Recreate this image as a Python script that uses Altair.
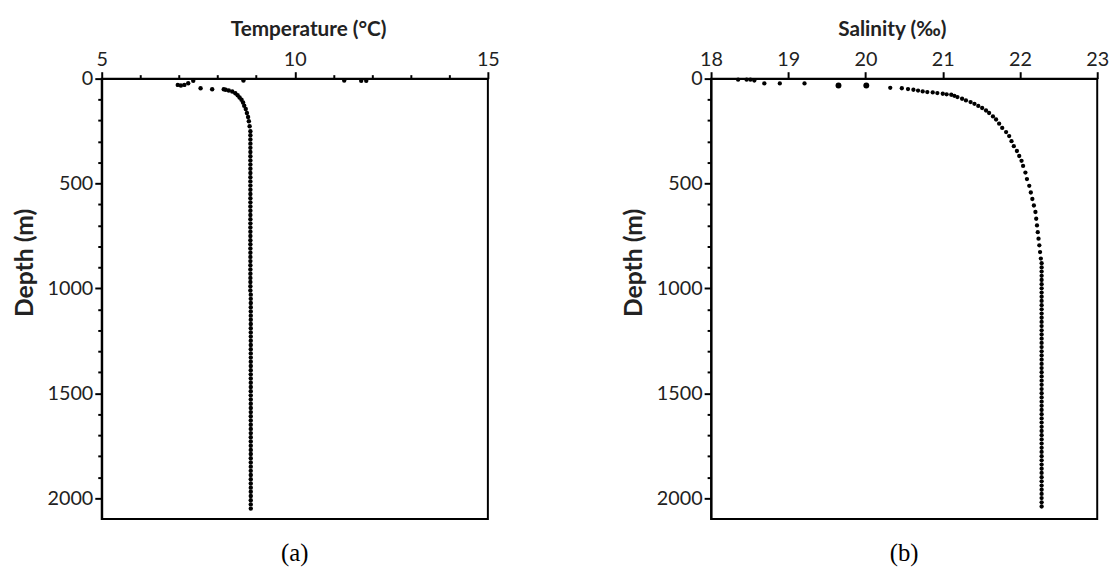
import altair as alt
import pandas as pd

# ---------------- Panel (a): temperature profile ----------------
temp_top_t = [6.97, 7.05, 7.14, 7.24, 7.37, 7.56, 7.86, 8.67, 11.28, 11.72, 11.85,
              8.16, 8.21, 8.29, 8.38, 8.46, 8.52, 8.57, 8.62, 8.66, 8.69, 8.73,
              8.76, 8.79, 8.81, 8.83, 8.85]
temp_top_d = [30, 33, 30, 22, 10, 46, 51, 9, 9, 10, 10,
              51, 53, 57, 61, 70, 79, 90, 101, 114, 129, 145,
              164, 183, 203, 227, 251]

deep_depth_a = [270, 290, 310, 330, 350, 370, 390, 410, 430, 450,
                470, 490, 510, 530, 550, 570, 590, 610, 630, 650,
                670, 690, 710, 730, 750, 770, 790, 810, 830, 850,
                870, 890, 910, 930, 950, 970, 990, 1010, 1030, 1050,
                1070, 1090, 1110, 1130, 1150, 1170, 1190, 1210, 1230, 1250,
                1270, 1290, 1310, 1330, 1350, 1370, 1390, 1410, 1430, 1450,
                1470, 1490, 1510, 1530, 1550, 1570, 1590, 1610, 1630, 1650,
                1670, 1690, 1710, 1730, 1750, 1770, 1790, 1810, 1830, 1850,
                1870, 1890, 1910, 1930, 1950, 1970, 1990, 2010, 2030, 2050]
deep_temp = [8.85, 8.85, 8.85, 8.85, 8.85, 8.85, 8.85, 8.85, 8.85, 8.85,
             8.85, 8.85, 8.85, 8.85, 8.85, 8.85, 8.85, 8.85, 8.85, 8.85,
             8.85, 8.85, 8.85, 8.85, 8.85, 8.85, 8.85, 8.85, 8.85, 8.85,
             8.85, 8.85, 8.85, 8.85, 8.85, 8.85, 8.85, 8.85, 8.86, 8.86,
             8.86, 8.86, 8.86, 8.86, 8.86, 8.86, 8.86, 8.86, 8.86, 8.86,
             8.86, 8.86, 8.86, 8.86, 8.86, 8.86, 8.86, 8.86, 8.86, 8.86,
             8.86, 8.86, 8.86, 8.86, 8.86, 8.86, 8.86, 8.86, 8.86, 8.86,
             8.86, 8.86, 8.86, 8.86, 8.86, 8.86, 8.86, 8.86, 8.86, 8.86,
             8.86, 8.86, 8.86, 8.86, 8.86, 8.86, 8.86, 8.86, 8.86, 8.86]

# ---------------- Panel (b): salinity profile ----------------
sal_top_s = [18.35, 18.46, 18.51, 18.56, 18.69, 18.89, 19.21, 19.65, 20.01, 20.32,
             20.47, 20.55, 20.62, 20.68, 20.74, 20.80, 20.87, 20.93, 21.00, 21.05,
             21.11, 21.15, 21.19, 21.25, 21.30, 21.36, 21.41, 21.46, 21.51, 21.56,
             21.60, 21.65, 21.69, 21.73, 21.77, 21.82, 21.86, 21.89, 21.92, 21.96,
             21.99, 22.02, 22.04, 22.07, 22.09, 22.12, 22.14, 22.16, 22.18, 22.20,
             22.21, 22.22, 22.23, 22.24, 22.25, 22.26, 22.27]
sal_top_d = [5, 5, 5, 9, 23, 23, 23, 33, 33, 44,
             46, 50, 53, 57, 61, 64, 66, 69, 72, 75,
             77, 82, 88, 96, 104, 112, 120, 130, 140, 152,
             164, 180, 195, 215, 235, 255, 274, 298, 322, 345,
             369, 392, 416, 448, 479, 511, 543, 574, 605, 636,
             668, 700, 732, 763, 795, 827, 858]
sal_big = [19.65, 20.01]

deep_depth_b = [880, 900, 920, 940, 960, 980, 1000, 1020, 1040, 1060,
                1080, 1100, 1120, 1140, 1160, 1180, 1200, 1220, 1240, 1260,
                1280, 1300, 1320, 1340, 1360, 1380, 1400, 1420, 1440, 1460,
                1480, 1500, 1520, 1540, 1560, 1580, 1600, 1620, 1640, 1660,
                1680, 1700, 1720, 1740, 1760, 1780, 1800, 1820, 1840, 1860,
                1880, 1900, 1920, 1940, 1960, 1980, 2000, 2020, 2040]
deep_sal = [22.28, 22.28, 22.28, 22.28, 22.28, 22.28, 22.28, 22.28, 22.28, 22.28,
            22.28, 22.28, 22.28, 22.28, 22.28, 22.28, 22.28, 22.28, 22.28, 22.28,
            22.28, 22.28, 22.28, 22.28, 22.28, 22.28, 22.28, 22.28, 22.28, 22.28,
            22.28, 22.28, 22.28, 22.28, 22.28, 22.28, 22.28, 22.28, 22.28, 22.28,
            22.28, 22.28, 22.28, 22.28, 22.28, 22.28, 22.28, 22.28, 22.28, 22.28,
            22.28, 22.28, 22.28, 22.28, 22.28, 22.28, 22.28, 22.28, 22.28]

# axis tick values
temp_ticks = [5, 6, 7, 8, 9, 10, 11, 12, 13, 14, 15]
sal_ticks = [18, 18.5, 19, 19.5, 20, 20.5, 21, 21.5, 22, 22.5, 23]
depth_ticks = [0, 100, 200, 300, 400, 500, 600, 700, 800, 900, 1000,
               1100, 1200, 1300, 1400, 1500, 1600, 1700, 1800, 1900, 2000]

df_a = pd.DataFrame({"t": temp_top_t + deep_temp, "d": temp_top_d + deep_depth_a})
df_b = pd.DataFrame({
    "s": sal_top_s + deep_sal,
    "d": sal_top_d + deep_depth_b,
})
df_b["big"] = df_b["s"].isin(sal_big)

FONT = "Lato"
W, H = 391, 446

y_axis = alt.Axis(
    title="Depth (m)", values=depth_ticks, format="d",
    labelExpr="datum.value % 500 === 0 ? datum.label : ''",
    tickSize={"condition": {"test": "datum.value % 500 === 0", "value": 7}, "value": 4},
    grid=False, labelOverlap=False, labelPadding=2, titlePadding=10,
    titleFontSize=25, titleY=186,
)
y_enc = alt.Y("d:Q", scale=alt.Scale(domain=[0, 2100], reverse=True, nice=False, zero=False),
              axis=y_axis)


def caption(txt):
    return alt.TitleParams(txt, orient="bottom", font="Liberation Serif",
                           fontSize=25, fontWeight="normal", offset=22, color="black")


panel_a = alt.Chart(df_a).mark_circle(color="black", opacity=1, size=20).encode(
    x=alt.X("t:Q", scale=alt.Scale(domain=[5, 15], nice=False, zero=False),
            axis=alt.Axis(orient="top", title="Temperature (°C)", values=temp_ticks, format="d",
                          labelExpr="datum.value % 5 === 0 ? datum.label : ''",
                          tickSize={"condition": {"test": "datum.value % 5 === 0", "value": 7}, "value": 4},
                          grid=False, labelOverlap=False, labelFlush=False, labelPadding=2,
                          titlePadding=11, titleX=209)),
    y=y_enc,
).properties(width=W, height=H, title=caption("(a)"))

panel_b = alt.Chart(df_b).mark_circle(color="black", opacity=1).encode(
    x=alt.X("s:Q", scale=alt.Scale(domain=[18, 23], nice=False, zero=False),
            axis=alt.Axis(orient="top", title="Salinity (‰)", values=sal_ticks, format="d",
                          labelExpr="datum.value % 1 === 0 ? datum.label : ''",
                          tickSize={"condition": {"test": "datum.value % 1 === 0", "value": 7}, "value": 4},
                          grid=False, labelOverlap=False, labelFlush=False, labelPadding=2,
                          titlePadding=11, titleX=183)),
    y=y_enc,
    size=alt.Size("big:N", scale=alt.Scale(domain=[False, True], range=[19, 36]), legend=None),
).properties(width=W, height=H, title=caption("(b)"))

chart = alt.hconcat(panel_a, panel_b, spacing=121).properties(
    padding={"left": 11, "top": 14, "right": 5, "bottom": 5},
    background="white",
).configure_view(
    stroke="black", strokeWidth=2,
).configure_axis(
    labelFont=FONT, labelFontSize=20, labelColor="#222",
    titleFont=FONT, titleFontSize=21, titleFontWeight="bold", titleColor="#222",
    domainColor="black", domainWidth=2, tickColor="black", tickWidth=2,
)

chart.save("out.html", embed_options={"renderer": "svg", "actions": False})
